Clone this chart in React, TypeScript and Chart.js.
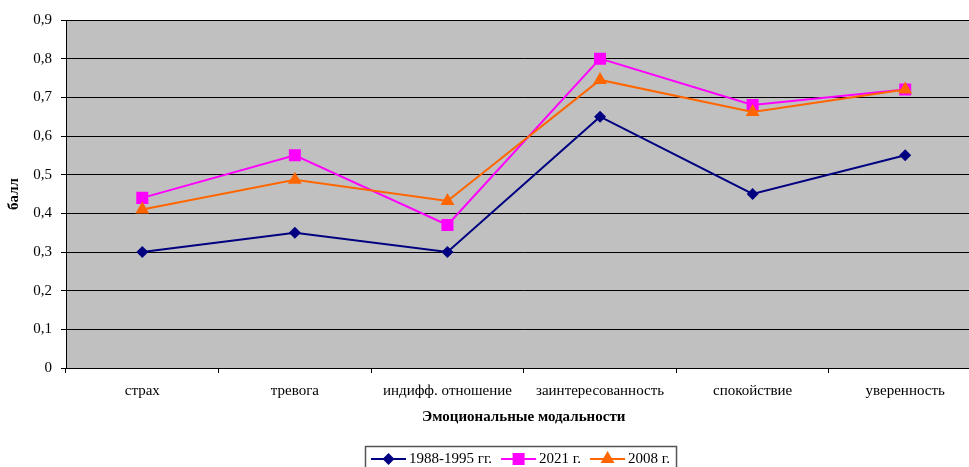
import React, { useEffect, useRef } from "react";
import { Chart, registerables } from "chart.js";

Chart.register(...registerables);

const categories = ["страх", "тревога", "индифф. отношение", "заинтересованность", "спокойствие", "уверенность"];
const series1988 = [0.3, 0.35, 0.3, 0.65, 0.45, 0.55];
const series2021 = [0.44, 0.55, 0.37, 0.8, 0.68, 0.72];
const series2008 = [0.41, 0.487, 0.432, 0.745, 0.662, 0.72];
const seriesLabels = ["1988-1995 гг.", "2021 г.", "2008 г."];
const seriesColors = ["#000080", "#FF00FF", "#FF6600"];
const seriesMarkers = ["rectRot", "rect", "triangle"];
const yMin = 0;
const yMax = 0.9;
const yStep = 0.1;
const xTitle = "Эмоциональные модальности";
const yTitle = "балл";

const FONT = "'Liberation Serif', 'Times New Roman', serif";

function drawMarker(ctx: CanvasRenderingContext2D, kind: string, x: number, y: number, color: string) {
  ctx.save();
  ctx.fillStyle = color;
  ctx.beginPath();
  if (kind === "rectRot") {
    const r = 6;
    ctx.moveTo(x, y - r);
    ctx.lineTo(x + r, y);
    ctx.lineTo(x, y + r);
    ctx.lineTo(x - r, y);
  } else if (kind === "rect") {
    const h = 6;
    ctx.rect(x - h, y - h, 2 * h, 2 * h);
  } else {
    const r = 8;
    ctx.moveTo(x, y - r);
    ctx.lineTo(x + r * 0.866, y + r * 0.5);
    ctx.lineTo(x - r * 0.866, y + r * 0.5);
  }
  ctx.closePath();
  ctx.fill();
  ctx.restore();
}

const plotBg = {
  id: "plotBg",
  beforeDraw(chart: any) {
    const { ctx, chartArea } = chart;
    ctx.save();
    ctx.fillStyle = "#C0C0C0";
    ctx.fillRect(chartArea.left, chartArea.top, chartArea.right - chartArea.left, chartArea.bottom - chartArea.top);
    ctx.restore();
  },
};

const boxLegend = {
  id: "boxLegend",
  afterDraw(chart: any) {
    const { ctx, chartArea } = chart;
    ctx.save();
    ctx.font = "15px " + FONT;
    ctx.textBaseline = "middle";
    const lineLen = 35;
    const gapLT = 3;
    const gapItem = 9;
    const pad = 6;
    const widths = seriesLabels.map((l) => ctx.measureText(l).width);
    let total = pad * 2;
    widths.forEach((w, i) => {
      total += lineLen + gapLT + w + (i < widths.length - 1 ? gapItem : 0);
    });
    const cx = (chartArea.left + chartArea.right) / 2 - 3;
    const left = Math.round(cx - total / 2);
    const top = 446;
    const cy = 459;
    ctx.strokeStyle = "#555";
    ctx.lineWidth = 1.5;
    ctx.strokeRect(left + 0.5, top + 0.5, total, 40);
    let x = left + pad;
    seriesLabels.forEach((label, i) => {
      ctx.strokeStyle = seriesColors[i];
      ctx.lineWidth = 2;
      ctx.beginPath();
      ctx.moveTo(x, cy);
      ctx.lineTo(x + lineLen, cy);
      ctx.stroke();
      drawMarker(ctx, seriesMarkers[i], x + lineLen / 2, cy, seriesColors[i]);
      x += lineLen + gapLT;
      ctx.fillStyle = "#000";
      ctx.textAlign = "left";
      ctx.fillText(label, x, cy);
      x += widths[i] + gapItem;
    });
    ctx.restore();
  },
};

export default function App() {
  const ref = useRef<HTMLCanvasElement | null>(null);
  useEffect(() => {
    if (!ref.current) return;
    const values = [series1988, series2021, series2008];
    const orders = [2, 1, 0];
    const radii = [6, 8.5, 8];
    const chart = new Chart(ref.current, {
      type: "line",
      data: {
        labels: categories,
        datasets: values.map((v, i) => ({
          label: seriesLabels[i],
          data: v,
          borderColor: seriesColors[i],
          backgroundColor: seriesColors[i],
          pointBackgroundColor: seriesColors[i],
          pointBorderColor: seriesColors[i],
          pointStyle: seriesMarkers[i] as any,
          pointRadius: radii[i],
          pointBorderWidth: 0,
          borderWidth: 2,
          tension: 0,
          order: orders[i],
        })),
      },
      options: {
        animation: false,
        responsive: true,
        maintainAspectRatio: false,
        layout: { padding: { top: 20, right: 3, bottom: 41, left: 0 } },
        plugins: {
          legend: { display: false },
          tooltip: { enabled: false },
        },
        scales: {
          x: {
            offset: true,
            grid: {
              offset: true,
              drawOnChartArea: false,
              drawTicks: true,
              tickLength: 5,
              tickColor: "#000",
            },
            border: { display: true, color: "#000", width: 1 },
            ticks: {
              color: "#000",
              font: { family: FONT, size: 15 },
              padding: 9,
              maxRotation: 0,
              autoSkip: false,
            },
            title: {
              display: true,
              text: xTitle,
              color: "#000",
              font: { family: FONT, size: 15, weight: "bold" },
              padding: { top: 0, bottom: 0 },
            },
            afterFit: (scale: any) => {
              scale.height = 58;
            },
          },
          y: {
            min: yMin,
            max: yMax,
            grid: {
              color: "#000",
              lineWidth: 1,
              drawTicks: true,
              tickLength: 5,
              tickColor: "#000",
            },
            border: { display: true, color: "#000", width: 1 },
            ticks: {
              stepSize: yStep,
              color: "#000",
              font: { family: FONT, size: 15 },
              padding: 9,
              callback: (v: any) => {
                const n = Number(v);
                return n === 0 ? "0" : n.toFixed(1).replace(".", ",");
              },
            },
            title: {
              display: true,
              text: yTitle,
              color: "#000",
              font: { family: FONT, size: 15, weight: "bold" },
              padding: { top: 5, bottom: 0 },
            },
            afterFit: (scale: any) => {
              scale.width = 66;
            },
          },
        },
      },
      plugins: [plotBg, boxLegend],
    });
    return () => chart.destroy();
  }, []);
  return (
    <div style={{ position: "absolute", left: 0, top: 0, width: 969, height: 467, overflow: "hidden", background: "#fff" }}>
      <div style={{ position: "relative", width: 990, height: 467 }}>
        <canvas ref={ref} />
      </div>
    </div>
  );
}
